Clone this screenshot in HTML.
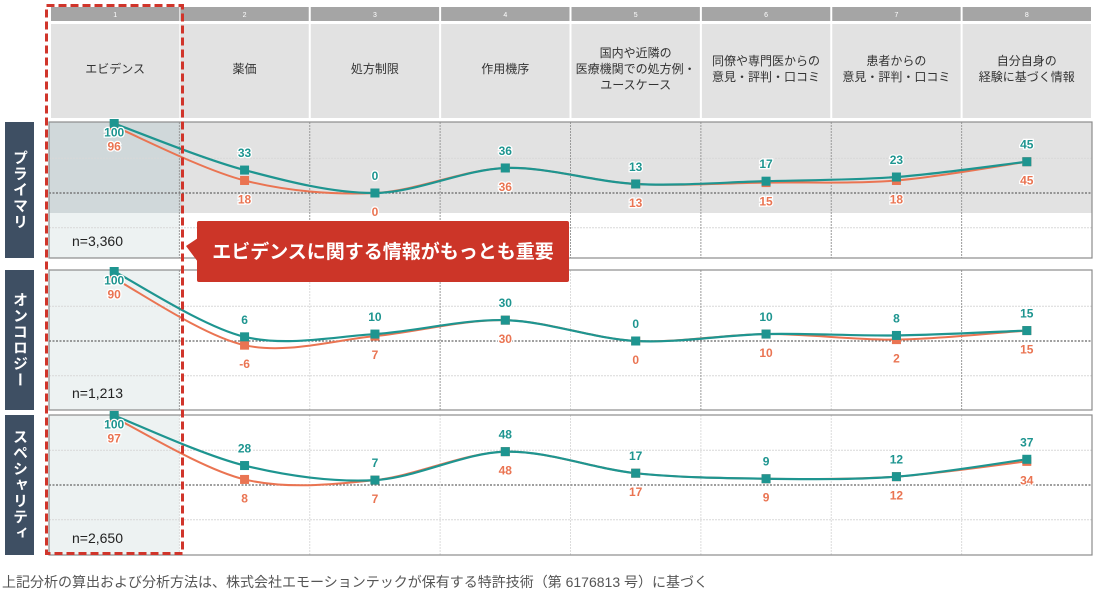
<!DOCTYPE html>
<html><head><meta charset="utf-8">
<style>
html,body{margin:0;padding:0;background:#fff;width:1100px;height:603px;overflow:hidden;font-family:"Liberation Sans","Noto Sans CJK JP",sans-serif;}
svg text{font-family:"Liberation Sans","Noto Sans CJK JP",sans-serif;}
</style></head><body>
<svg id="chart" width="1100" height="603" viewBox="0 0 1100 603" xmlns="http://www.w3.org/2000/svg">
<g id="bg"></g>
<g id="marks"></g>
<g id="over"></g>
</svg>
<script>
const categories = ["エビデンス","薬価","処方制限","作用機序","国内や近隣の|医療機関での処方例・|ユースケース","同僚や専門医からの|意見・評判・口コミ","患者からの|意見・評判・口コミ","自分自身の|経験に基づく情報"];
const segments = ["プライマリ","オンコロジー","スペシャリティ"];
const sampleSizes = ["n=3,360","n=1,213","n=2,650"];
const primaryTeal = [100,33,0,36,13,17,23,45];
const primaryOrange = [96,18,0,36,13,15,18,45];
const oncologyTeal = [100,6,10,30,0,10,8,15];
const oncologyOrange = [90,-6,7,30,0,10,2,15];
const specialtyTeal = [100,28,7,48,17,9,12,37];
const specialtyOrange = [97,8,7,48,17,9,12,34];
const tealSeries = [primaryTeal, oncologyTeal, specialtyTeal];
const orangeSeries = [primaryOrange, oncologyOrange, specialtyOrange];

const NS="http://www.w3.org/2000/svg";
const bg=document.getElementById('bg'), marks=document.getElementById('marks'), over=document.getElementById('over');
function el(tag,attrs,parent,txt){const e=document.createElementNS(NS,tag);for(const k in attrs)e.setAttribute(k,attrs[k]);if(txt!==undefined)e.textContent=txt;parent.appendChild(e);return e;}

const plotL=49, plotR=1092, colW=(plotR-plotL)/8;
function xPos(i){return plotL+colW*(i+0.5)+(i===0?0:0);}
const panels=[{top:122,bot:258,zero:193},{top:270,bot:410,zero:341},{top:415,bot:555,zero:485}];
const unit=0.695;
function yPos(p,v){return panels[p].zero-v*unit;}
const TEAL="#1e9590", ORANGE="#ea7452";

// header
for(let i=0;i<8;i++){
  const x0=plotL+colW*i+(i===0?2:1), w=colW-2;
  const nb=el('rect',{x:x0,y:7,width:w,height:14,fill:'#a5a5a5'},bg);
  
  
  el('text',{x:x0+w/2,y:17,'font-size':7,fill:'#fff','text-anchor':'middle'},bg,String(i+1));
  const hc=el('rect',{x:x0,y:24,width:w,height:94,fill:'#e2e2e2'},bg);
  
  
  const lines=categories[i].split('|');
  const cy=73-(lines.length-1)*8;
  lines.forEach((ln,k)=>{
    const t=el('text',{x:x0+w/2,y:cy+k*16,'font-size':12,fill:'#333','text-anchor':'middle'},bg,ln);
    
    
  });
}

// panels
panels.forEach((p,pi)=>{
  el('rect',{x:plotL,y:p.top,width:plotR-plotL,height:p.bot-p.top,fill:'#fff'},bg);
  el('rect',{x:plotL,y:p.top,width:colW,height:p.bot-p.top,fill:'#edf2f2'},bg);
  if(pi===0){
    el('rect',{x:plotL,y:p.top,width:plotR-plotL,height:213-p.top,fill:'#e2e2e2'},bg);
    el('rect',{x:plotL,y:p.top,width:colW+2,height:213-p.top,fill:'#d0d8da'},bg);
  }
  [50,-50].forEach(v=>el('line',{x1:plotL,x2:plotR,y1:yPos(pi,v),y2:yPos(pi,v),stroke:'#d8d8d8','stroke-width':1,'stroke-dasharray':'2,1'},bg));
  for(let i=1;i<8;i++){const x=plotL+colW*i;el('line',{x1:x,x2:x,y1:p.top,y2:p.bot,stroke:(pi===1&&i%2===1)||(pi===0)?'#9a9a9a':'#dcdcdc','stroke-width':1,'stroke-dasharray':'2,1'},bg);}
  el('line',{x1:plotL,x2:plotR,y1:p.zero,y2:p.zero,stroke:'#666','stroke-width':1.3,'stroke-dasharray':'2,1.5'},bg);
  const box=el('rect',{x:plotL,y:p.top,width:plotR-plotL,height:p.bot-p.top,fill:'none',stroke:'#8c8c8c','stroke-width':1.2},bg);
  
  
  const side=el('rect',{x:5,y:p.top,width:29,height:p.bot-p.top,fill:'#3e4f63'},bg);
  
  
  const st=el('text',{x:19.5,y:(p.top+p.bot)/2,'font-size':15,'font-weight':'bold',fill:'#fff','text-anchor':'middle','dominant-baseline':'central','writing-mode':'tb','glyph-orientation-vertical':0,'letter-spacing':'1'},bg,segments[pi]);
  
  
  const nt=el('text',{x:72,y:p.bot-12,'font-size':14,fill:'#222'},bg,sampleSizes[pi]);
  
  
});

function curve(pts){
  let d=`M${pts[0][0]},${pts[0][1]}`;
  for(let i=0;i<pts.length-1;i++){
    const p0=pts[Math.max(0,i-1)],p1=pts[i],p2=pts[i+1],p3=pts[Math.min(pts.length-1,i+2)];
    const t=0.16;
    const c1x=p1[0]+(p2[0]-p0[0])*t, c1y=p1[1]+(p2[1]-p0[1])*t;
    const c2x=p2[0]-(p3[0]-p1[0])*t, c2y=p2[1]-(p3[1]-p1[1])*t;
    d+=` C${c1x},${c1y} ${c2x},${c2y} ${p2[0]},${p2[1]}`;
  }
  return d;
}

panels.forEach((p,pi)=>{
  const T=tealSeries[pi], O=orangeSeries[pi];
  const op=O.map((v,i)=>[xPos(i),yPos(pi,v)]), tp=T.map((v,i)=>[xPos(i),yPos(pi,v)]);
  const ol=el('path',{d:curve(op),fill:'none',stroke:ORANGE,'stroke-width':2},marks);
  
  
  const tl=el('path',{d:curve(tp),fill:'none',stroke:TEAL,'stroke-width':2.2},marks);
  
  
  O.forEach((v,i)=>{
    const m=el('rect',{x:op[i][0]-4.5,y:op[i][1]-4.5,width:9,height:9,fill:ORANGE},marks);
    
    
  });
  T.forEach((v,i)=>{
    const m=el('rect',{x:tp[i][0]-4.5,y:tp[i][1]-4.5,width:9,height:9,fill:TEAL},marks);
    
    
  });
  T.forEach((v,i)=>{
    let ty=tp[i][1]-13, oy=op[i][1]+23;
    if(i===0){ty=tp[i][1]+13; oy=tp[i][1]+27;}
    const a=el('text',{x:tp[i][0],y:ty,'font-size':12,'font-weight':'bold',fill:TEAL,'text-anchor':'middle',stroke:'#fff','stroke-width':2.5,'paint-order':'stroke'},marks,String(v));
    
    
    const b=el('text',{x:op[i][0],y:oy,'font-size':12,'font-weight':'bold',fill:ORANGE,'text-anchor':'middle',stroke:'#fff','stroke-width':2.5,'paint-order':'stroke'},marks,String(O[i]));
    
    
  });
});

// highlight dashed box
const hb=el('rect',{x:46.5,y:5.5,width:136,height:548,fill:'none',stroke:'#d0352b','stroke-width':3,'stroke-dasharray':'8,4'},over);


// callout
const cg=el('g',{},over);


el('path',{d:'M186,246 L198,238 L198,262 Z',fill:'#cc3528'},cg);
el('rect',{x:197,y:221,width:372,height:61,rx:2,fill:'#cc3528'},cg);
el('text',{x:383,y:258,'font-size':19,'font-weight':'bold',fill:'#fff','text-anchor':'middle'},cg,'エビデンスに関する情報がもっとも重要');
// footer
const ft=el('text',{x:2,y:587,'font-size':14,fill:'#555'},over,'上記分析の算出および分析方法は、株式会社エモーションテックが保有する特許技術（第 6176813 号）に基づく');


</script>
</body></html>
